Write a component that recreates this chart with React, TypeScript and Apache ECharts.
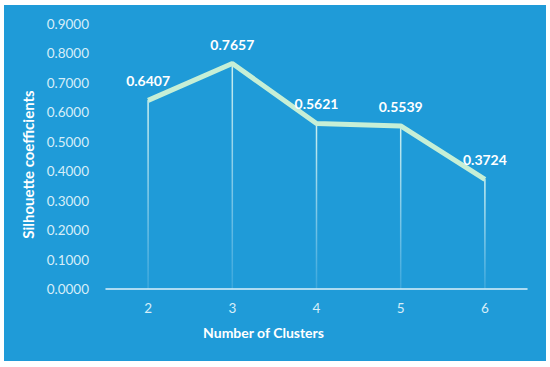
import React, { useEffect, useRef } from "react";
import * as echarts from "echarts";

const categories = ["2", "3", "4", "5", "6"];
const silhouette = [0.6407, 0.7657, 0.5621, 0.5539, 0.3724];
const yTicks = { min: 0, max: 0.9, interval: 0.1 };

export default function App() {
  const ref = useRef<HTMLDivElement>(null);
  useEffect(() => {
    const chart = echarts.init(ref.current!, null, { renderer: "svg" });
    const font = "Lato, 'Open Sans', sans-serif";
    chart.setOption({
      animation: false,
      backgroundColor: "#ffffff",
      textStyle: { fontFamily: font },
      graphic: [
        {
          type: "rect",
          z: -10,
          shape: { x: 4, y: 5, width: 542, height: 356 },
          style: { fill: "#1F9BD8" },
        },
      ],
      grid: { left: 106, right: 23, top: 24, bottom: 78 },
      xAxis: {
        type: "category",
        data: categories,
        boundaryGap: true,
        name: "Number of Clusters",
        nameLocation: "middle",
        nameGap: 36,
        nameTextStyle: {
          color: "#ffffff",
          fontWeight: "bold",
          fontSize: 14,
          fontFamily: font,
          padding: [0, 106, 0, 0],
        },
        axisLine: { lineStyle: { color: "#DDF1FA", width: 1.5 } },
        axisTick: { show: false },
        axisLabel: { color: "#D6EEF9", fontSize: 13.5, margin: 12, fontFamily: font },
        splitLine: { show: false },
      },
      yAxis: {
        type: "value",
        min: yTicks.min,
        max: yTicks.max,
        interval: yTicks.interval,
        name: "Silhouette coefficients",
        nameLocation: "middle",
        nameGap: 63,
        nameRotate: 90,
        nameTextStyle: {
          color: "#ffffff",
          fontWeight: "bold",
          fontSize: 15,
          fontFamily: font,
          padding: [0, 16, 0, 0],
        },
        axisLine: { show: false },
        axisTick: { show: false },
        splitLine: { show: false },
        axisLabel: {
          color: "#D6EEF9",
          fontSize: 13.5,
          margin: 17,
          fontFamily: font,
          formatter: (v: number) => v.toFixed(4),
        },
      },
      series: [
        {
          type: "bar",
          data: silhouette,
          barWidth: 1.5,
          silent: true,
          itemStyle: {
            color: new echarts.graphic.LinearGradient(0, 0, 0, 1, [
              { offset: 0, color: "rgba(215,245,240,0.95)" },
              { offset: 1, color: "rgba(215,240,250,0.15)" },
            ]),
          },
          z: 1,
        },
        {
          type: "line",
          data: silhouette,
          showSymbol: true,
          symbol: "circle",
          symbolSize: 1,
          itemStyle: { color: "#C6EFD6" },
          lineStyle: { color: "#C6EFD6", width: 5 },
          label: {
            show: true,
            position: "top",
            distance: 12,
            color: "#ffffff",
            fontWeight: "bold",
            fontSize: 14,
            fontFamily: font,
            formatter: (p: any) => Number(p.value).toFixed(4),
          },
          z: 3,
        },
      ],
    });
    return () => chart.dispose();
  }, []);
  return (
    <div
      ref={ref}
      style={{ position: "fixed", left: 0, top: 0, width: 550, height: 367 }}
    />
  );
}
